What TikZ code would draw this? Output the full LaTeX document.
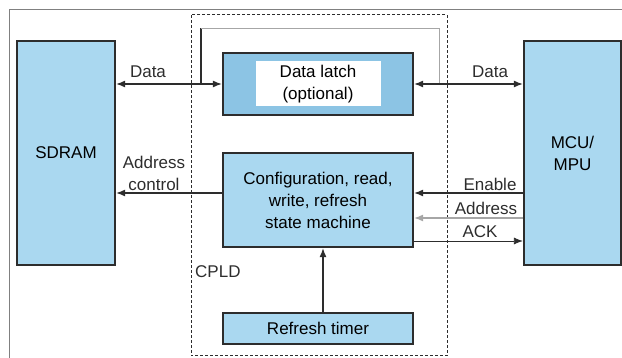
\documentclass[tikz,border=0pt]{standalone}
\usepackage{fontspec}
\setmainfont{Liberation Sans}
\usetikzlibrary{arrows.meta}
\definecolor{boxblue}{RGB}{170,216,240}
\definecolor{latchblue}{RGB}{140,196,228}
\definecolor{edge}{RGB}{45,45,45}

\begin{document}
\begin{tikzpicture}[x = 1pt, y = -1pt,
	font = \fontsize{17}{22}\selectfont,
	block/.style = {draw = edge, line width = 2.2pt, fill = boxblue, align = center, inner sep = 0pt},
	sig/.style = {draw = edge, line width = 1.3pt, -{Latex[length = 9pt, width = 7pt]}},
	bisig/.style = {sig, {Latex[length = 9pt, width = 7pt]}-{Latex[length = 9pt, width = 7pt]}},
	lbl/.style = {inner sep = 0pt, text = edge}]
		\useasboundingbox (0, 0) rectangle (622, 358);
		%%%%%%%%%%%%%
		\draw[gray, line width = 1pt] (622, 10) -- (9, 10) -- (9, 358);
		\draw[edge, line width = 1pt, dash pattern = on 3pt off 2pt] (191, 15) rectangle (447, 356);
		%%%%%%%%%%%%%
		\node[block, minimum width = 98pt, minimum height = 224pt] (sdram) at (66, 153) {SDRAM};
		\node[block, minimum width = 97pt, minimum height = 224pt] (mcu) at (572.5, 153) {MCU/\\MPU};
		\node[block, fill = latchblue, minimum width = 190pt, minimum height = 62pt] (latch) at (318, 84) {};
		\node[fill = white, minimum width = 125pt, minimum height = 45pt, align = center, inner sep = 0pt] (latchtext) at (latch) {Data latch\\(optional)};
		\node[block, minimum width = 190pt, minimum height = 94pt] (config) at (318, 200) {Configuration, read,\\write, refresh\\state machine};
		\node[block, minimum width = 190pt, minimum height = 31pt] (timer) at (318, 328.5) {Refresh timer};
		\node[lbl, anchor = west] (cpld) at (195, 272) {CPLD};
		%%%%%%%%%%%%%
		\node[lbl] (datal) at (148, 72) {Data};
		\node[lbl] (datar) at (490, 72) {Data};
		\node[lbl, align = center] (addrl) at (154, 173) {Address\\control};
		\node[lbl] (enable) at (490, 184) {Enable};
		\node[lbl] (addrr) at (486, 208) {Address};
		\node[lbl] (ack) at (480, 232) {ACK};
		%%%%%%%%%%%%%
		\coordinate (tapl) at (201, 84);
		\coordinate (tapr) at (439, 84);
		\coordinate (bus) at (320, 28);
		\draw[edge, line width = 1.6pt] (tapl) -- (tapl |- bus);
		\draw[gray!70, line width = 0.8pt] (tapl |- bus) -| (tapr);
		%%%%%%%%%%%%%
		\draw[bisig] (sdram.east |- latch.west) -- (latch.west);
		\draw[bisig] (latch.east) -- (latch.east -| mcu.west);
		\draw[sig] ([yshift = 7pt]config.west) -- ([yshift = 7pt]config.west -| sdram.east);
		\draw[sig] ([yshift = 7pt]config.east -| mcu.west) -- ([yshift = 7pt]config.east);
		\draw[sig, draw = gray!70] ([yshift = -18pt]config.east -| mcu.west) -- ([yshift = -18pt]config.east);
		\draw[sig, line width = 0.8pt] ([yshift = -41pt]config.east) -- ([yshift = -41pt]config.east -| mcu.west);
		\draw[sig] ([xshift = 5pt]timer.north) -- ([xshift = 5pt]config.south);
		%%%%%%%%%%%%%%
\end{tikzpicture}
\end{document}
